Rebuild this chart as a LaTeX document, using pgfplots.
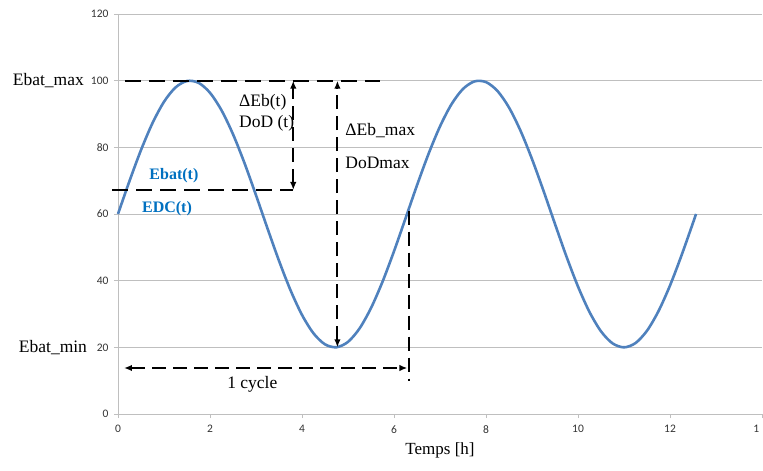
\documentclass[border=0pt]{standalone}
\usepackage{fontspec}
\setmainfont{Liberation Serif}
\newfontfamily\carlito{Carlito}
\usepackage{pgfplots}
\pgfplotsset{compat=1.18}
\usetikzlibrary{arrows.meta}
\definecolor{curveblue}{HTML}{4F81BD}
\definecolor{txtblue}{HTML}{0070C0}
\definecolor{gridgray}{HTML}{BFBFBF}
\begin{document}
\begin{tikzpicture}
\begin{axis}[
  at={(0pt,0pt)}, anchor=south west,
  scale only axis, width=644pt, height=400pt,
  xmin=0, xmax=14, ymin=0, ymax=120,
  xtick={0,2,4,6,8,10,12,14},
  xticklabels={0,2,4,6,8,10,12,{\makebox[0pt][r]{1}\hphantom{1}}},
  ytick={0,20,40,60,80,100,120},
  axis x line*=bottom, axis y line*=left,
  axis line style={gridgray, line width=0.9pt},
  ymajorgrids, grid style={gridgray, line width=0.9pt, solid},
  tick align=outside, major tick length=4pt,
  tick style={gridgray, line width=0.9pt, solid},
  /pgf/number format/assume math mode=true,
  tick label style={font=\carlito\fontsize{11.5}{13}\selectfont, text=black!80},
  xticklabel style={yshift=-4pt},
  yticklabel style={xshift=-2pt},
  xlabel={Temps [h]},
  xlabel style={font=\rmfamily\fontsize{17}{20}\selectfont, yshift=-2pt},
  clip=false,
]
\addplot[curveblue, line width=2.6pt, smooth, solid] coordinates {
(0,60) (0.25,69.90) (0.5,79.18) (0.75,87.27) (1.0,93.66) (1.25,97.96) (1.5,99.90) (1.75,99.36)
(2.0,96.37) (2.25,91.12) (2.5,83.94) (2.75,75.27) (3.0,65.64) (3.25,55.67) (3.5,45.97) (3.75,37.14)
(4.0,29.73) (4.25,24.20) (4.5,20.90) (4.75,20.03) (5.0,21.64) (5.25,25.64) (5.5,31.78) (5.75,39.67)
(6.0,48.82) (6.25,58.67) (6.5,68.61) (6.75,78.00) (7.0,86.28) (7.25,92.93) (7.5,97.52) (7.75,99.78)
(8.0,99.57) (8.25,96.90) (8.5,91.94) (8.75,84.99) (9.0,76.48) (9.25,66.96) (9.5,57.00) (9.75,47.21)
(10.0,38.24) (10.25,30.60) (10.5,24.80) (10.75,21.20) (11.0,20.00) (11.25,21.28) (11.5,24.98) (11.75,30.86)
(12.0,38.54) (12.25,47.57) (12.5,57.35) (12.566,60)
};
% dashed annotations
\draw[black, line width=1.9pt, dash pattern=on 16pt off 8pt] (axis cs:0.15,100) -- (axis cs:5.7,100);
\draw[black, line width=1.9pt, dash pattern=on 16pt off 8pt] (axis cs:-0.13,67.2) -- (axis cs:3.81,67.2);
\draw[black, line width=2pt, dash pattern=on 14pt off 7pt, {Latex[length=8pt,width=6.5pt]}-{Latex[length=8pt,width=6.5pt]}] (axis cs:3.81,67.2) -- (axis cs:3.81,100);
\draw[black, line width=2pt, dash pattern=on 14pt off 7pt, {Latex[length=8pt,width=6.5pt]}-{Latex[length=8pt,width=6.5pt]}] (axis cs:4.77,20) -- (axis cs:4.77,100);
\draw[black, line width=2pt, dash pattern=on 14pt off 7pt] (axis cs:6.33,61) -- (axis cs:6.33,10);
\draw[black, line width=1.9pt, dash pattern=on 14pt off 7pt, {Latex[length=8pt,width=6.5pt]}-{Latex[length=8pt,width=6.5pt]}] (axis cs:0.13,13.8) -- (axis cs:6.29,13.8);
% texts
\node[anchor=east, font=\rmfamily\fontsize{17.5}{20}\selectfont, inner sep=0pt] at (axis cs:-0.74,100) {Ebat\_max};
\node[anchor=east, font=\rmfamily\fontsize{17.5}{20}\selectfont, inner sep=0pt] at (axis cs:-0.67,20) {Ebat\_min};
\node[anchor=west, font=\rmfamily\fontsize{17.5}{20}\selectfont, inner sep=0pt] at (axis cs:2.63,93.4) {ΔEb(t)};
\node[anchor=west, font=\rmfamily\fontsize{17.5}{20}\selectfont, inner sep=0pt] at (axis cs:2.63,87.2) {DoD (t)};
\node[anchor=west, font=\rmfamily\fontsize{17.5}{20}\selectfont, inner sep=0pt] at (axis cs:4.94,85.0) {ΔEb\_max};
\node[anchor=west, font=\rmfamily\fontsize{17.5}{20}\selectfont, inner sep=0pt] at (axis cs:4.94,75.4) {DoDmax};
\node[font=\rmfamily\fontsize{17.5}{20}\selectfont, inner sep=0pt] at (axis cs:2.92,9.0) {1 cycle};
\node[anchor=west, font=\rmfamily\bfseries\fontsize{16}{18}\selectfont, text=txtblue, inner sep=0pt] at (axis cs:0.68,71.4) {Ebat(t)};
\node[anchor=west, font=\rmfamily\bfseries\fontsize{16}{18}\selectfont, text=txtblue, inner sep=0pt] at (axis cs:0.52,61.6) {EDC(t)};
\end{axis}
\pgfresetboundingbox
\path (-118pt,-57pt) rectangle (645pt,414pt);
\end{tikzpicture}
\end{document}
